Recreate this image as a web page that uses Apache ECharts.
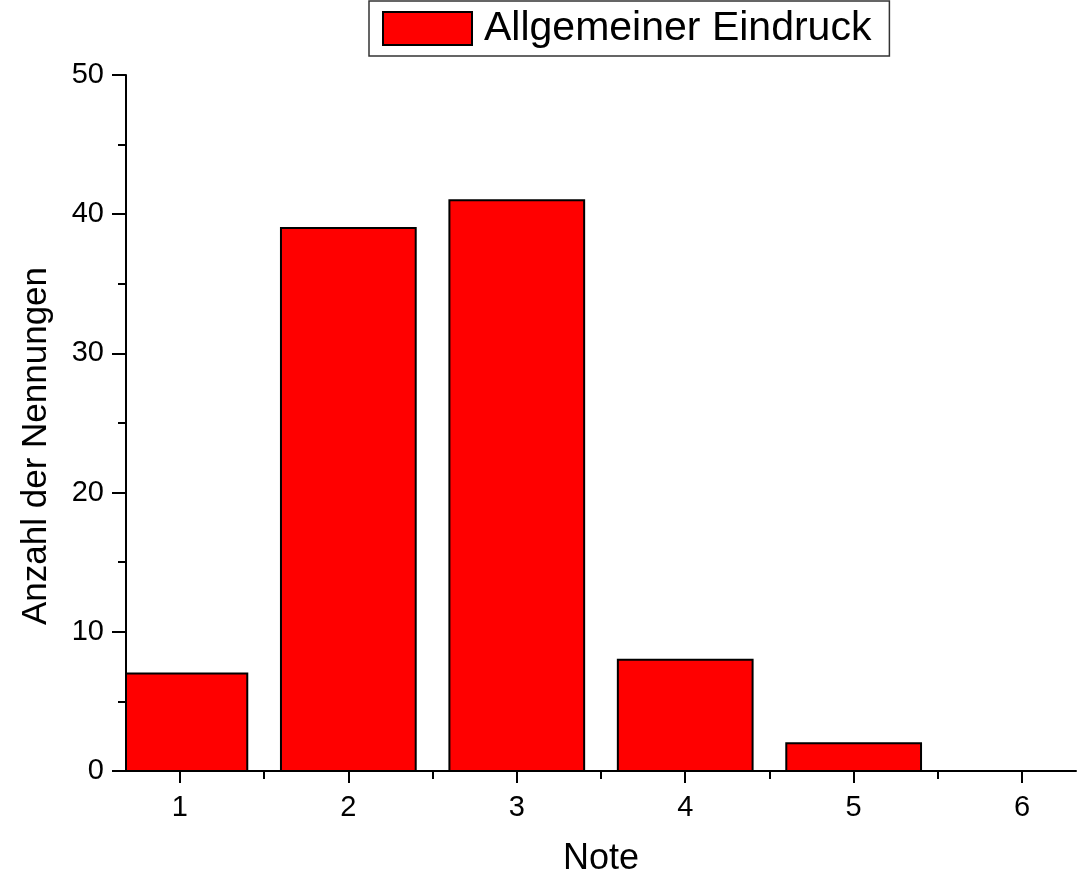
<!DOCTYPE html>
<html>
<head>
<meta charset="utf-8">
<script src="https://cdn.jsdelivr.net/npm/echarts@6/dist/echarts.min.js"></script>
<style>
html,body{margin:0;padding:0;background:#fff;}
#chart{width:1089px;height:882px;}
</style>
</head>
<body>
<div id="chart"></div>
<script>
var categories = [1, 2, 3, 4, 5, 6];
var counts = [7, 39, 41, 8, 2, 0];
var xTickLabels = [1, 2, 3, 4, 5, 6];
var xMinorTicks = [1.5, 2.5, 3.5, 4.5, 5.5];
var seriesName = 'Allgemeiner Eindruck';
var xAxisName = 'Note';
var yAxisName = 'Anzahl der Nennungen';

var FONT = 'Liberation Sans, Arial, sans-serif';
var BAR_WIDTH_UNITS = 0.8;
var barData = categories.map(function (c, i) { return [c, counts[i]]; });

function renderBar(params, api) {
  var x = api.value(0), v = api.value(1);
  var half = BAR_WIDTH_UNITS / 2;
  var p0 = api.coord([x - half, v]);
  var p1 = api.coord([x + half, 0]);
  var cs = params.coordSys;
  var rect = echarts.graphic.clipRectByRect(
    {x: p0[0], y: p0[1], width: p1[0] - p0[0], height: p1[1] - p0[1]},
    {x: cs.x, y: cs.y, width: cs.width, height: cs.height}
  );
  if (!rect) return null;
  return {
    type: 'rect',
    shape: rect,
    style: api.style({fill: '#ff0000', stroke: '#000000', lineWidth: 2})
  };
}

var chart = echarts.init(document.getElementById('chart'), null, {renderer: 'canvas'});
chart.setOption({
  animation: false,
  backgroundColor: '#ffffff',
  textStyle: {fontFamily: FONT},
  grid: {left: 126, right: 13, top: 75, bottom: 109, containLabel: false},
  legend: {
    show: true,
    data: [{name: seriesName, icon: 'rect', itemStyle: {color: '#ff0000', borderColor: '#000', borderWidth: 2}}],
    left: 369, top: 1,
    padding: [7, 18, 7, 13],
    itemWidth: 89, itemHeight: 33, itemGap: 12,
    borderColor: '#333', borderWidth: 1.5,
    selectedMode: false,
    textStyle: {fontSize: 41, color: '#000', fontFamily: FONT, padding: [0, 0, 0, 7]}
  },
  xAxis: [{
    type: 'value', min: 0.68, max: 6.32, position: 'bottom',
    name: xAxisName, nameLocation: 'middle', nameGap: 70,
    nameTextStyle: {fontSize: 36, color: '#000', fontFamily: FONT},
    axisLine: {show: true, onZero: false, lineStyle: {color: '#000', width: 2}},
    axisTick: {show: true, inside: false, length: 12, customValues: xTickLabels, lineStyle: {color: '#000', width: 2}},
    axisLabel: {show: true, customValues: xTickLabels, margin: 22, fontSize: 29, color: '#000', fontFamily: FONT},
    splitLine: {show: false}
  }, {
    type: 'value', min: 0.68, max: 6.32, position: 'bottom',
    axisLine: {show: false, onZero: false},
    axisTick: {show: true, inside: false, length: 8, customValues: xMinorTicks, lineStyle: {color: '#000', width: 2}},
    axisLabel: {show: false, customValues: xMinorTicks},
    splitLine: {show: false}
  }],
  yAxis: {
    type: 'value', min: 0, max: 50, interval: 10,
    name: yAxisName, nameLocation: 'middle', nameGap: 72,
    nameTextStyle: {fontSize: 35, color: '#000', fontFamily: FONT, padding: [0, 46, 0, 0]},
    axisLine: {show: true, lineStyle: {color: '#000', width: 2}},
    axisTick: {show: true, inside: false, length: 14, lineStyle: {color: '#000', width: 2}},
    minorTick: {show: true, splitNumber: 2, length: 8, lineStyle: {color: '#000', width: 2}},
    axisLabel: {margin: 22, fontSize: 29, color: '#000', fontFamily: FONT},
    splitLine: {show: false}
  },
  series: [{
    name: seriesName,
    type: 'custom',
    xAxisIndex: 0,
    yAxisIndex: 0,
    data: barData,
    encode: {x: 0, y: 1},
    renderItem: renderBar,
    itemStyle: {color: '#ff0000', borderColor: '#000', borderWidth: 2},
    z: 1
  }]
});
</script>
</body>
</html>
